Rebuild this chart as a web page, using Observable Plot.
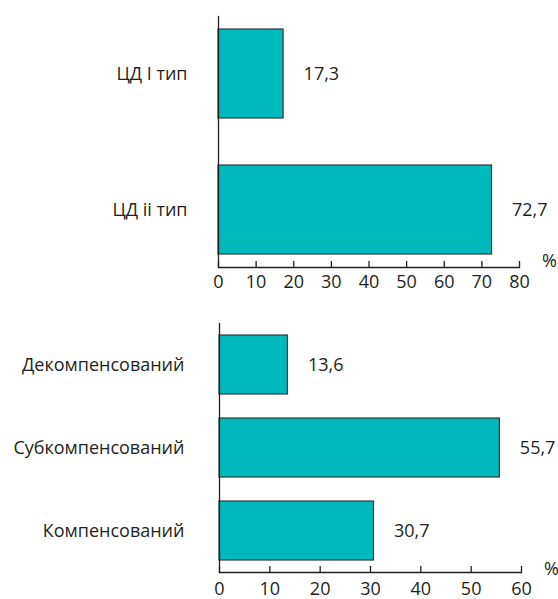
<!DOCTYPE html>
<html>
<head>
<meta charset="utf-8">
<script src="https://cdn.jsdelivr.net/npm/d3@7"></script>
<script src="https://cdn.jsdelivr.net/npm/@observablehq/plot@0.6"></script>
<style>
  body { margin: 0; background: #fff; }
  #chart svg { display: block; }
</style>
</head>
<body>
<div id="chart"></div>
<script>
// Panel 1: diabetes type
const typeCategories = ["ЦД І тип", "ЦД іі тип"];
const typeValues = [17.3, 72.7];
const typeTicks = [0, 10, 20, 30, 40, 50, 60, 70, 80];

// Panel 2: compensation state
const compCategories = ["Декомпенсований", "Субкомпенсований", "Компенсований"];
const compValues = [13.6, 55.7, 30.7];
const compTicks = [0, 10, 20, 30, 40, 50, 60];

const unitLabel = "%";

const fill = "#00b9bc";
const ink = "#231f20";
const fmt = v => d3.format(".1f")(v).replace(".", ",");

function panel(categories, values, ticks, opts) {
  const data = categories.map((c, i) => ({category: c, value: values[i]}));
  return Plot.plot({
    width: 558,
    height: opts.height,
    marginLeft: opts.marginLeft,
    marginRight: opts.marginRight,
    marginTop: opts.marginTop,
    marginBottom: opts.marginBottom,
    style: {fontFamily: "'Open Sans', sans-serif", fontSize: "18px", color: ink, background: "#fff"},
    x: {domain: [ticks[0], ticks[ticks.length - 1]], ticks: ticks, label: null},
    y: {domain: categories, paddingInner: opts.paddingInner, paddingOuter: opts.paddingOuter, label: null},
    marks: [
      Plot.barX(data, {x: "value", y: "category", fill: fill, stroke: "#2e3b3c", strokeWidth: 1.2}),
      Plot.text(data, {x: "value", y: "category", text: d => fmt(d.value), textAnchor: "start", dx: 20, fill: ink, fontSize: 18}),
      Plot.frame({anchor: "left", stroke: ink, strokeWidth: 1.3}),
      Plot.frame({anchor: "bottom", stroke: ink, strokeWidth: 1.3}),
      Plot.axisX({ticks: ticks, tickSize: -6, tickPadding: opts.xPad, tickFormat: d => String(d), stroke: ink, strokeWidth: 1.3, fill: ink, label: null}),
      Plot.axisY({tickSize: 0, tickPadding: opts.yPad, fill: ink, label: null}),
      Plot.text([unitLabel], {frameAnchor: "bottom-right", text: d => d, dx: 30, dy: opts.pctDy, textAnchor: "middle", fill: ink, fontSize: 18})
    ]
  });
}

const chart = document.getElementById("chart");
chart.append(panel(typeCategories, typeValues, typeTicks, {
  height: 300, marginLeft: 218, marginRight: 39, marginTop: 16, marginBottom: 33,
  paddingInner: 0.343, paddingOuter: 0.088, yPad: 31, xPad: 14, pctDy: -1
}));
chart.append(panel(compCategories, compValues, compTicks, {
  height: 299, marginLeft: 219, marginRight: 37, marginTop: 23, marginBottom: 27,
  paddingInner: 0.286, paddingOuter: 0.13, yPad: 35, xPad: 16, pctDy: 2
}));
</script>
</body>
</html>
